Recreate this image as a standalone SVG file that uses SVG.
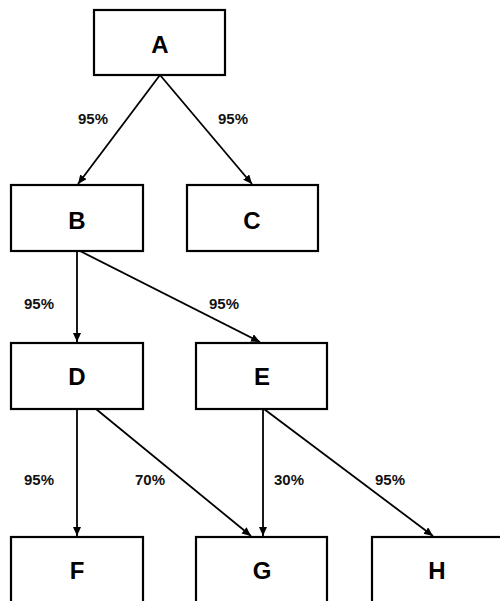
<svg xmlns="http://www.w3.org/2000/svg" width="500" height="601" viewBox="0 0 500 601">
<defs>
<marker id="ah" markerWidth="10" markerHeight="10" refX="9" refY="4" orient="auto" markerUnits="userSpaceOnUse">
<path d="M0,0 L9,4 L0,8 Z" fill="#000"/>
</marker>
<style>
.box{fill:#fff;stroke:#000;stroke-width:2.2}
.nt{font-family:"Liberation Sans",Arial,sans-serif;font-size:24px;font-weight:bold;text-anchor:middle;fill:#000}
.lt{font-family:"Liberation Sans",Arial,sans-serif;font-size:15px;font-weight:bold;text-anchor:middle;fill:#111}
.ed{stroke:#000;stroke-width:1.8;fill:none;marker-end:url(#ah)}
</style>
</defs>
<rect width="500" height="601" fill="#fff"/>
<g id="connectors">
<line class="ed" x1="160" y1="75" x2="78" y2="184"/>
<line class="ed" x1="160" y1="75" x2="252" y2="184"/>
<line class="ed" x1="77" y1="251" x2="77" y2="342"/>
<line class="ed" x1="80" y1="251" x2="260" y2="342"/>
<line class="ed" x1="77" y1="409" x2="77" y2="536"/>
<line class="ed" x1="96" y1="409" x2="251" y2="536"/>
<line class="ed" x1="263" y1="409" x2="263" y2="536"/>
<line class="ed" x1="264" y1="409" x2="433" y2="536"/>
<text class="lt" x="93" y="124">95%</text>
<text class="lt" x="233" y="124">95%</text>
<text class="lt" x="39" y="309">95%</text>
<text class="lt" x="224" y="309">95%</text>
<text class="lt" x="39" y="485">95%</text>
<text class="lt" x="150" y="485">70%</text>
<text class="lt" x="289" y="485">30%</text>
<text class="lt" x="390" y="485">95%</text>
</g>
<g id="A"><rect class="box" x="94" y="10" width="131" height="65"/><text class="nt" x="160" y="53">A</text></g>
<g id="B"><rect class="box" x="11" y="185" width="132" height="66"/><text class="nt" x="77" y="229">B</text></g>
<g id="C"><rect class="box" x="187" y="185" width="131" height="66"/><text class="nt" x="252" y="229">C</text></g>
<g id="D"><rect class="box" x="11" y="343" width="132" height="66"/><text class="nt" x="77" y="385">D</text></g>
<g id="E"><rect class="box" x="196" y="343" width="131" height="66"/><text class="nt" x="262" y="385">E</text></g>
<g id="F"><rect class="box" x="11" y="537" width="132" height="70"/><text class="nt" x="77" y="579">F</text></g>
<g id="G"><rect class="box" x="196" y="537" width="131" height="70"/><text class="nt" x="262" y="579">G</text></g>
<g id="H"><rect class="box" x="372" y="537" width="140" height="70"/><text class="nt" x="437" y="579">H</text></g>
</svg>
